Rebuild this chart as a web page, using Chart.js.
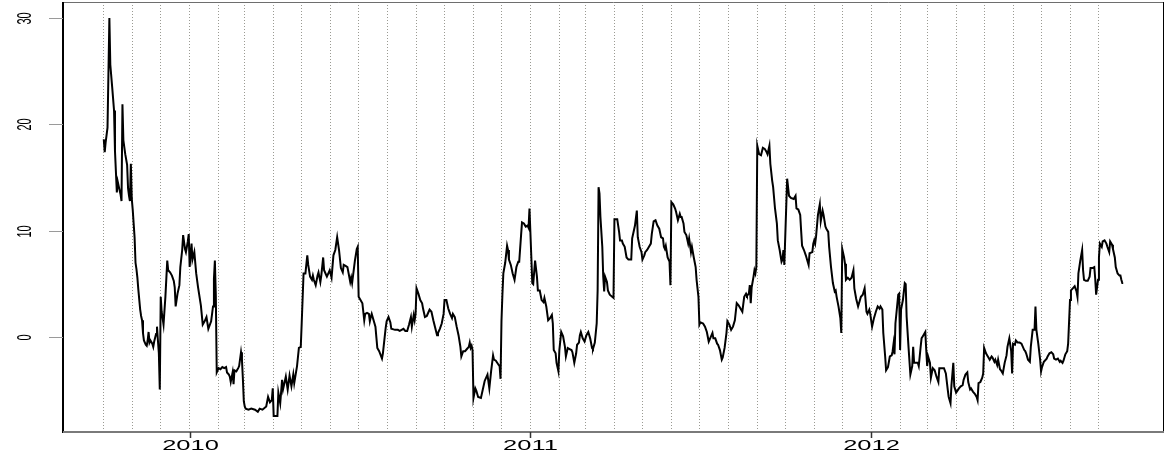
<!DOCTYPE html>
<html>
<head>
<meta charset="utf-8">
<style>
  html, body { margin: 0; padding: 0; background: #ffffff; }
  #wrap { width: 1174px; height: 455px; }
</style>
<script src="https://cdn.jsdelivr.net/npm/chart.js@4.4.1/dist/chart.umd.min.js"></script>
</head>
<body>
<div id="wrap"><canvas id="c" width="1174" height="455"></canvas></div>
<script>
// Daily readings grouped by month: months[i] holds the month, days[i] the
// day-of-month of each reading and values[i] the matching readings.
const months = [
  '2009-10','2009-11','2009-12','2010-01','2010-02','2010-03','2010-04','2010-05','2010-06',
  '2010-07','2010-08','2010-09','2010-10','2010-11','2010-12','2011-01','2011-02','2011-03',
  '2011-04','2011-05','2011-06','2011-07','2011-08','2011-09','2011-10','2011-11','2011-12',
  '2012-01','2012-02','2012-03','2012-04','2012-05','2012-06','2012-07','2012-08','2012-09'
];
const days = [
  [1,2,3,5,7,8,10,12,13,15,16,17,19,20,21,22,24,26,27,28,29,30,31],
  [1,3,4,5,6,7,9,10,11,12,13,15,16,17,18,19,20,22,23,24,26,27,28,29,30],
  [1,2,4,6,8,9,11,13,15,16,17,19,21,22,24,25,27,28,30,31],
  [1,3,4,6,8,10,13,15,17,19,21,24,26,27,28,29,30],
  [1,3,5,7,9,10,12,13,14,16,17,18,20,22,23,25,26,27,28],
  [1,2,5,8,12,15,17,20,24,26,28,30,31],
  [1,5,6,8,10,11,14,16,18,20,22,23,26,28,30],
  [1,3,5,7,8,10,12,13,14,16,18,19,21,22,24,25,27,28,31],
  [2,4,6,8,10,12,14,15,17,19,22,23,24,25,27,29,30],
  [1,3,5,7,8,10,12,13,14,15,17,19,20,21,23,26,27,29,30,31],
  [2,4,5,9,12,14,16,18,20,22,24,26,27,29,30,31],
  [1,3,5,7,8,10,12,14,15,17,19,21,23,24,26,28,30],
  [1,3,5,7,9,10,12,14,16,18,19,21,23,25,27,28,29,30,31],
  [1,3,4,6,9,11,13,16,18,20,22,23,25,28,29,30],
  [1,2,3,5,7,8,9,11,13,15,17,19,20,22,23,25,27,29,30,31],
  [2,3,4,6,8,9,11,13,15,16,18,20,22,24,25,26,28,29,31],
  [1,3,5,7,8,10,12,14,15,17,19,20,22,23,24,26,28],
  [2,4,6,8,9,11,13,14,15,16,17,19,20,21,22,24,25,27,31],
  [1,4,6,7,9,10,12,14,16,19,20,23,25,26,28,30],
  [1,3,4,6,8,10,11,13,15,17,19,20,21,23,24,25,26,28,30,31],
  [1,3,5,6,8,10,11,12,14,15,17,19,20,22,23,25,27,28,30],
  [1,2,5,7,9,11,13,15,16,18,20,21,23,25,26,28,30,31],
  [2,4,6,8,10,12,14,16,18,20,21,23,24,25,26,28,29,30,31],
  [1,3,5,7,9,11,12,14,15,17,18,20,22,23,25,27,28,29,30],
  [3,5,7,10,12,13,15,17,18,19,21,23,25,26,27,30,31],
  [1,2,3,5,7,8,10,11,13,14,16,17,19,21,23,24,25,27,29,30],
  [1,3,4,5,7,9,11,13,14,16,18,20,21,23,25,27,28,30,31],
  [2,4,6,8,10,11,13,14,16,17,19,21,23,24,25,26,27,30,31],
  [1,2,4,6,7,8,10,12,14,15,16,18,20,21,23,24,26,28,29],
  [1,2,4,5,7,9,11,13,14,16,19,21,23,24,26,27,29,30],
  [1,4,6,8,9,11,13,14,16,17,19,21,23,24,25,27,29,30],
  [1,3,5,7,9,10,12,13,15,16,18,19,21,23,25,26,28,30,31],
  [1,3,4,6,8,10,13,14,15,17,19,20,22,24,25,26,28,30],
  [1,2,4,7,8,10,12,14,15,17,19,21,22,24,25,27,29,30],
  [1,2,4,6,8,9,10,12,14,15,16,18,20,22,23,25,27,28,29,31],
  [1,2,4,5,7,9,10,12,13,15,16,18,19,21,23,24,25,26,27]
];
const values = [
  [18.6,17.4,18.3,19.7,30.0,25.6,23.5,21.3,17.5,13.6,14.6,14.2,13.4,12.8,21.9,18.5,17.2,16.2,14.0,13.3,12.8,16.3,13.0],
  [12.0,9.4,7.0,6.4,5.6,4.5,2.6,2.0,1.6,0.4,-0.3,-0.7,-0.8,-0.3,0.5,-0.5,-0.3,-0.6,-0.9,-0.4,0.3,1.0,-0.3,-1.5,-4.9],
  [3.8,2.4,1.2,3.8,7.2,6.3,6.1,5.8,5.3,4.7,2.9,4.1,4.9,6.6,8.2,9.6,8.3,8.0,9.0,9.7],
  [6.6,8.8,7.3,8.0,6.0,4.7,3.0,1.2,1.5,1.9,0.8,1.5,2.9,5.5,7.2,4.0,-3.3],
  [-2.9,-3.0,-2.8,-2.9,-2.8,-3.3,-3.5,-3.7,-4.2,-3.3,-4.4,-3.1,-3.2,-2.9,-2.7,-1.4,-2.1,-3.9,-6.0],
  [-6.5,-6.7,-6.8,-6.7,-6.8,-7.0,-6.7,-6.8,-6.5,-5.6,-6.1,-5.9,-4.8],
  [-7.4,-7.4,-5.2,-6.2,-4.0,-4.9,-3.7,-4.9,-3.6,-4.6,-3.5,-4.3,-2.7,-1.0,-0.9],
  [1.3,6.0,6.0,7.7,6.8,5.7,5.4,5.8,5.4,4.9,5.8,6.1,5.2,5.8,7.5,6.3,5.9,5.7,6.3],
  [5.6,7.7,8.2,9.4,8.2,6.5,6.1,6.8,6.7,6.6,5.2,5.6,5.1,5.8,7.2,8.3,8.5],
  [3.8,3.5,3.2,1.6,2.2,2.3,2.2,1.5,1.9,2.2,1.6,1.0,0.0,-1.0,-1.3,-2.0,-1.5,0.1,0.9,1.5],
  [1.9,1.4,0.8,0.7,0.7,0.6,0.7,0.8,0.6,0.6,1.2,1.9,1.0,2.1,1.6,2.2],
  [4.6,4.1,3.5,3.2,2.7,1.9,2.0,2.4,2.6,2.4,1.6,0.9,0.2,0.4,0.8,1.3,2.2],
  [3.5,3.5,2.7,2.2,1.8,2.2,1.9,1.0,0.2,-0.9,-1.8,-1.3,-1.3,-1.1,-0.9,-0.5,-1.0,-0.8,-1.2],
  [-5.7,-4.8,-5.0,-5.6,-5.7,-4.9,-4.1,-3.5,-4.8,-3.1,-1.7,-2.1,-2.2,-2.6,-2.7,-3.9],
  [1.5,4.0,6.0,7.0,8.6,8.2,7.3,6.8,6.0,5.4,6.6,7.1,7.1,9.6,10.8,10.7,10.4,10.5,10.3,12.1],
  [7.5,5.1,5.0,7.2,5.7,4.4,4.4,3.5,3.3,3.7,2.9,1.6,1.8,2.1,1.3,-1.2,-1.5,-2.4,-3.2],
  [-1.2,0.5,0.1,-0.9,-1.8,-1.0,-1.1,-1.2,-1.4,-2.4,-1.5,-0.7,-0.5,0.2,0.5,-0.1,-0.4],
  [0.2,0.5,-0.1,-1.0,-1.1,-0.5,1.3,4.4,14.1,13.5,11.3,8.5,5.7,4.3,5.7,5.2,4.4,4.0,3.7],
  [11.1,11.1,9.9,9.1,9.1,8.8,8.5,7.5,7.3,7.3,9.3,10.5,11.9,9.4,8.5,8.0],
  [7.3,7.7,8.0,8.2,8.5,8.8,9.7,10.9,11.0,10.5,10.2,9.8,9.4,9.3,8.5,8.3,8.6,7.5,7.1,4.9],
  [12.7,12.5,12.1,11.8,11.0,11.6,11.3,11.3,10.7,9.9,9.6,8.8,9.3,8.0,8.5,7.5,6.6,5.4,3.8],
  [1.2,1.4,1.3,1.0,0.5,-0.4,0.0,0.4,-0.1,-0.1,-0.6,-0.7,-1.2,-2.1,-1.9,-1.0,0.4,1.5],
  [1.2,0.7,1.0,1.6,3.2,3.0,2.7,2.4,3.8,4.1,3.9,4.1,4.9,3.2,4.7,5.7,6.3,6.0,6.6],
  [18.0,17.2,17.1,17.8,17.7,17.4,17.2,18.0,16.3,14.7,14.1,12.1,10.7,9.1,8.2,7.1,7.3,8.2,6.8],
  [14.9,13.3,13.1,13.0,13.3,12.1,12.0,11.5,10.0,8.6,8.2,7.7,7.1,6.8,7.9,8.0,8.8],
  [9.1,8.8,9.5,11.5,12.5,10.9,11.9,11.5,10.4,10.2,9.9,8.5,6.6,5.1,4.3,4.4,3.8,2.9,1.8,0.4],
  [8.3,7.5,6.9,5.4,5.6,5.4,5.6,6.3,4.6,3.6,2.9,3.5,3.8,4.0,4.6,2.4,2.2,2.6,2.2],
  [1.0,1.8,2.4,2.9,2.7,2.9,2.6,0.4,-1.8,-3.1,-2.8,-1.8,-1.7,-1.3,-0.6,-1.6,1.3,4.0,4.1],
  [-1.2,2.6,3.5,5.1,5.0,1.9,-0.9,-3.5,-2.7,-0.9,-2.4,-2.4,-2.4,-2.7,-0.9,-0.1,0.2,0.5,-1.2],
  [-2.7,-1.8,-2.4,-3.8,-2.9,-3.1,-3.7,-4.2,-2.9,-2.9,-2.9,-3.4,-4.9,-5.6,-6.2,-4.5,-2.4,-4.6],
  [-5.2,-4.8,-4.6,-4.5,-4.0,-3.5,-3.3,-4.2,-4.9,-4.8,-5.1,-5.3,-5.6,-5.9,-4.3,-4.2,-3.8,-3.4],
  [-1.0,-1.5,-1.8,-2.1,-1.8,-1.9,-2.3,-2.1,-2.6,-2.1,-3.0,-3.1,-3.4,-2.4,-1.7,-0.9,-0.1,-1.3,-3.4],
  [-0.6,-0.7,-0.3,-0.5,-0.5,-0.6,-1.2,-1.3,-1.5,-2.1,-2.3,-0.9,0.7,0.7,2.9,0.7,-0.6,-2.1],
  [-3.2,-2.8,-2.3,-2.0,-1.8,-1.5,-1.4,-1.6,-2.0,-2.1,-2.0,-2.3,-2.2,-2.4,-2.2,-1.6,-1.3,-0.6],
  [3.5,4.4,4.6,4.8,4.3,3.8,6.0,7.2,8.2,6.3,5.4,5.3,5.3,5.7,6.5,6.5,6.6,5.5,4.0,5.4],
  [7.5,8.8,8.5,9.0,9.1,8.8,8.5,8.0,9.0,8.7,8.3,7.5,6.6,6.0,5.8,5.8,5.4,5.1,5.1]
];
const yTickValues = [0, 10, 20, 30];
const yearTicks = ['2010-01-01', '2011-01-01', '2012-01-01'];
const yearLabels = ['2010', '2011', '2012'];

const DAY = 86400000;
const dayNumber = s => { const [y, m, d] = s.split('-').map(Number); return Date.UTC(y, m - 1, d) / DAY; };

const points = [];
months.forEach((m, i) => {
  days[i].forEach((d, j) => {
    points.push({ x: dayNumber(m + '-' + String(d).padStart(2, '0')), y: values[i][j] });
  });
});

// R-style 4% padding around the data range on both axes
const xs = points.map(p => p.x), ys = points.map(p => p.y);
const xLo = Math.min(...xs), xHi = Math.max(...xs);
const yLo = Math.min(...ys), yHi = Math.max(...ys);
const xPad = (xHi - xLo) * 0.04, yPad = (yHi - yLo) * 0.04;

// first day of every month in view, used for the dotted separators
const monthStarts = months.map(m => dayNumber(m + '-01'));

const FONT = '"Liberation Sans", Arial, Helvetica, sans-serif';

const axesPlugin = {
  id: 'rAxes',
  afterDraw(chart) {
    const { ctx, chartArea: a, scales: { x, y } } = chart;
    ctx.save();
    // plot frame
    ctx.lineWidth = 1;
    ctx.strokeStyle = '#6e6e6e';
    ctx.beginPath();
    ctx.moveTo(a.left, a.top + 0.5); ctx.lineTo(a.right, a.top + 0.5);
    ctx.stroke();
    ctx.strokeStyle = '#000';
    ctx.beginPath();
    ctx.moveTo(a.right - 0.5, a.top); ctx.lineTo(a.right - 0.5, a.bottom);
    ctx.stroke();
    ctx.lineWidth = 2;
    ctx.strokeStyle = '#000';
    ctx.beginPath();
    ctx.moveTo(a.left, a.top); ctx.lineTo(a.left, a.bottom + 1);
    ctx.stroke();
    ctx.strokeStyle = '#7a7a7a';
    ctx.beginPath();
    ctx.moveTo(a.left, a.bottom); ctx.lineTo(a.right, a.bottom);
    ctx.stroke();

    // y axis ticks and rotated labels
    ctx.fillStyle = '#000';
    ctx.font = '11px ' + FONT;
    ctx.textAlign = 'center';
    ctx.textBaseline = 'middle';
    yTickValues.forEach(v => {
      const py = Math.round(y.getPixelForValue(v)) + 0.5;
      ctx.strokeStyle = '#9a9a9a';
      ctx.lineWidth = 1;
      ctx.beginPath();
      ctx.moveTo(a.left - 14, py); ctx.lineTo(a.left, py);
      ctx.stroke();
      ctx.save();
      ctx.translate(a.left - 38, py);
      ctx.scale(1.9, 1);
      ctx.rotate(-Math.PI / 2);
      ctx.fillText(String(v), 0, 0);
      ctx.restore();
    });

    // x axis year ticks and labels
    yearTicks.forEach((s, i) => {
      const px = Math.round(x.getPixelForValue(dayNumber(s))) + 0.5;
      ctx.strokeStyle = '#333';
      ctx.lineWidth = 1.5;
      ctx.beginPath();
      ctx.moveTo(px, a.bottom); ctx.lineTo(px, a.bottom + 6);
      ctx.stroke();
      ctx.save();
      ctx.translate(px, 446);
      ctx.scale(1.7, 1);
      ctx.font = '15px ' + FONT;
      ctx.fillText(yearLabels[i], 0, 0);
      ctx.restore();
    });
    ctx.restore();
  }
};

new Chart(document.getElementById('c'), {
  type: 'line',
  data: {
    datasets: [{
      data: points,
      borderColor: '#000',
      borderWidth: 2,
      pointRadius: 0,
      tension: 0,
      fill: false
    }]
  },
  options: {
    responsive: false,
    animation: false,
    devicePixelRatio: 1,
    layout: { padding: { top: 2, right: 10, left: 0, bottom: 0 } },
    plugins: { legend: { display: false }, tooltip: { enabled: false } },
    scales: {
      x: {
        type: 'linear',
        min: xLo - xPad,
        max: xHi + xPad,
        afterFit: s => { s.height = 23; },
        afterBuildTicks: s => { s.ticks = monthStarts.map(v => ({ value: v })); },
        ticks: { display: false },
        grid: { color: 'rgba(120,120,110,0.75)', lineWidth: 1, drawTicks: false },
        border: { display: false, dash: [1, 2] }
      },
      y: {
        type: 'linear',
        min: yLo - yPad,
        max: yHi + yPad,
        afterFit: s => { s.width = 63; },
        ticks: { display: false },
        grid: { display: false },
        border: { display: false }
      }
    }
  },
  plugins: [axesPlugin]
});
</script>
</body>
</html>
